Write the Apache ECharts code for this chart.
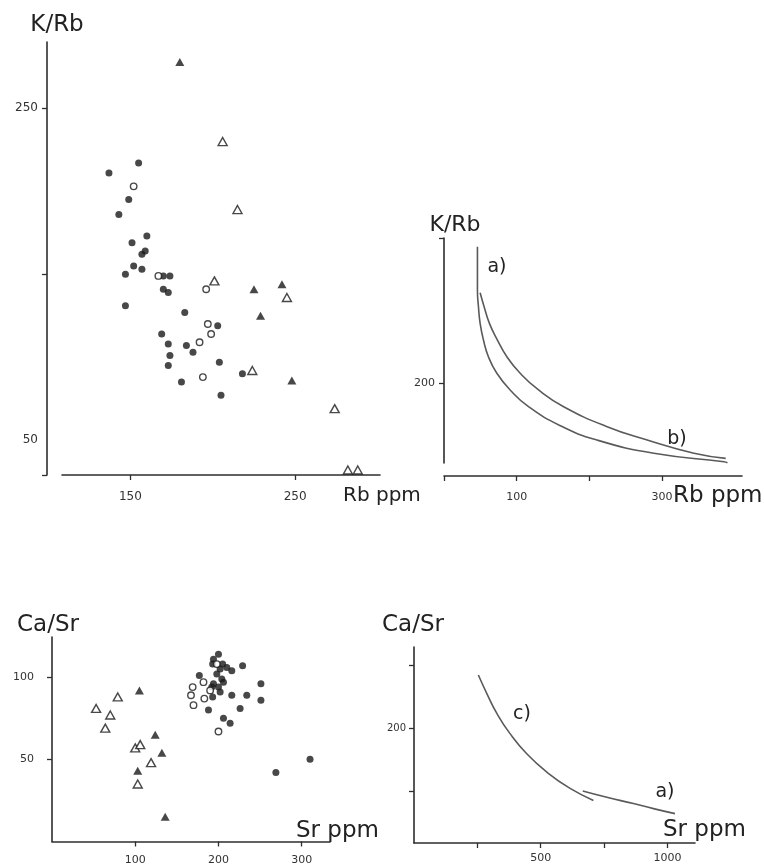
<!DOCTYPE html>
<html>
<head>
<meta charset="utf-8">
<script src="https://cdn.jsdelivr.net/npm/echarts@6/dist/echarts.min.js"></script>
<style>
  html, body { margin: 0; padding: 0; background: #ffffff; }
  #chart { width: 764px; height: 867px; }
</style>
</head>
<body>
<div id="chart"></div>
<script>
// ---- K/Rb against Rb (ppm): four rock groups ----
const rbFilledCircles = [
  [155, 217], [137, 211], [149, 195], [143, 186], [160, 173], [151, 169], [159, 164],
  [157, 162], [152, 155], [147, 150], [157, 153], [170, 149], [174, 149], [170, 141],
  [173, 139], [147, 131], [183, 127], [203, 119], [169, 114], [173, 108], [184, 107],
  [188, 103], [174, 101], [173, 95], [204, 97], [218, 90], [181, 85], [205, 77]
];
const rbOpenCircles = [[152, 203], [167, 149], [196, 141], [197, 120], [199, 114], [192, 109], [194, 88]];
const rbFilledTriangles = [[180, 278], [225, 141], [242, 144], [229, 125], [248, 86]];
const rbOpenTriangles = [[206, 230], [215, 189], [201, 146], [245, 136], [224, 92], [274, 69], [282, 32], [288, 32]];

// Model curves for K/Rb against Rb (curve a starts with a vertical stem)
const rbCurveA = [[46, 294], [46, 264], [47.4, 252.7], [49.7, 241.2], [54.3, 229.7], [61.1, 218.2],
  [72.7, 206.8], [91, 195.3], [116.3, 183.8], [160, 170.7], [210.6, 160.8], [288.7, 151.7], [385.3, 145.9], [390, 145.2]];
const rbCurveB = [[49.7, 262.3], [55.2, 252.7], [62.5, 241.2], [73.5, 229.7], [86.5, 218.2], [104.8, 206.8],
  [130.1, 195.3], [164.6, 183.8], [224.4, 170], [279.6, 160.8], [343.9, 151.7], [387.6, 148.2]];

// ---- Ca/Sr against Sr (ppm) ----
const srFilledCircles = [
  [200, 114], [194, 111], [193, 108], [205, 108], [202, 105], [210, 106], [216, 104],
  [229, 107], [198, 102], [204, 99], [206, 97], [194, 96], [192, 94], [200, 94],
  [202, 91], [193, 88], [216, 89], [234, 89], [251, 96], [251, 86], [226, 81],
  [188, 80], [206, 75], [214, 72], [177, 101], [269, 42], [310, 50]
];
const srOpenCircles = [[169, 94], [167, 89], [170, 83], [182, 97], [183, 87], [190, 92], [198, 108], [200, 67]];
const srFilledTriangles = [[105, 92], [124, 65], [132, 54], [103, 43], [136, 15]];
const srOpenTriangles = [[53, 81], [79, 88], [70, 77], [64, 69], [100, 57], [106, 59], [119, 48], [103, 35]];

// Model curves for Ca/Sr against Sr
const srCurveC = [[254, 285], [287, 256], [327, 224], [379, 192], [445, 160], [524, 131], [616, 105], [708, 86]];
const srCurveA = [[666, 101], [761, 91], [866, 81], [945, 73], [1030, 65]];

// Tick positions and labelled ticks for each axis
const rbScatterXTicks = [150, 250];
const rbScatterYTicks = [29, 150, 250];
const rbScatterYLabels = [50, 250];
const rbModelXTicks = [0, 100, 200, 300];
const rbModelXLabels = [100, 300];
const rbModelYTicks = [200, 300];
const rbModelYLabels = [200];
const srScatterXTicks = [100, 200, 300];
const srScatterYTicks = [50, 100];
const srModelXTicks = [250, 500, 750, 1000];
const srModelXLabels = [500, 1000];
const srModelYTicks = [100, 200, 300];
const srModelYLabels = [200];

const INK = '#1a1a1a';
const AXIS = '#2e2e2e';
const CURVE = '#5a5a5a';
const FONT = 'DejaVu Sans';

function tickLabel(values, margin, size) {
  return {
    show: true, customValues: values, margin: margin, fontSize: size,
    color: '#333', fontFamily: FONT, formatter: function (v) { return String(v); }
  };
}
function axisOf(grid, min, max, ticks, label, extra) {
  return Object.assign({
    type: 'value', gridIndex: grid, min: min, max: max,
    axisLine: { show: true, onZero: false, lineStyle: { color: AXIS, width: 1.6 } },
    axisTick: { show: true, customValues: ticks, length: 5, lineStyle: { color: AXIS, width: 1.3 } },
    axisLabel: label,
    splitLine: { show: false }
  }, extra || {});
}

function dots(data, axisIdx, kind) {
  const filled = kind === 'filledCircle' || kind === 'filledTriangle';
  const tri = kind === 'filledTriangle' || kind === 'openTriangle';
  return {
    type: 'scatter', xAxisIndex: axisIdx, yAxisIndex: axisIdx, data: data,
    symbol: tri ? 'triangle' : 'circle',
    symbolSize: tri ? [9, 8] : (filled ? 7 : 6.5),
    itemStyle: filled
      ? { color: INK }
      : { color: '#ffffff', borderColor: INK, borderWidth: 1.4 },
    silent: true, z: 3
  };
}
function curve(data, axisIdx) {
  return {
    type: 'line', xAxisIndex: axisIdx, yAxisIndex: axisIdx, data: data,
    smooth: 0.5, showSymbol: false, symbol: 'none', clip: false,
    lineStyle: { color: CURVE, width: 1.6 }, silent: true, z: 2
  };
}
function caption(text, x, y, size, align) {
  return {
    type: 'text', x: x, y: y, silent: true,
    style: { text: text, fill: '#222', fontSize: size, fontFamily: FONT, align: align || 'left', verticalAlign: 'middle' }
  };
}

const chart = echarts.init(document.getElementById('chart'), null, { renderer: 'canvas' });
chart.setOption({
  backgroundColor: '#ffffff',
  animation: false,
  grid: [
    { left: 62, top: 42, width: 318, height: 433 },
    { left: 444, top: 238, width: 298, height: 225 },
    { left: 52, top: 637, width: 278, height: 204.5 },
    { left: 414, top: 647, width: 281, height: 196 }
  ],
  xAxis: [
    axisOf(0, 108.5, 301.5, rbScatterXTicks, tickLabel(rbScatterXTicks, 16, 12)),
    axisOf(1, 0, 410, rbModelXTicks, tickLabel(rbModelXLabels, 16, 11), { offset: 13 }),
    axisOf(2, 0, 334, srScatterXTicks, tickLabel(srScatterXTicks, 13, 11)),
    axisOf(3, 0, 1109, srModelXTicks, tickLabel(srModelXLabels, 10, 11))
  ],
  yAxis: [
    axisOf(0, 29, 290, rbScatterYTicks, tickLabel(rbScatterYLabels, 9, 12), { offset: 15 }),
    axisOf(1, 145, 300, rbModelYTicks, tickLabel(rbModelYLabels, 9, 11)),
    axisOf(2, 0, 124.5, srScatterYTicks, tickLabel(srScatterYTicks, 18, 11)),
    axisOf(3, 18.4, 329.5, srModelYTicks, tickLabel(srModelYLabels, 8, 10))
  ],
  series: [
    dots(rbFilledCircles, 0, 'filledCircle'),
    dots(rbOpenCircles, 0, 'openCircle'),
    dots(rbFilledTriangles, 0, 'filledTriangle'),
    dots(rbOpenTriangles, 0, 'openTriangle'),
    curve(rbCurveA, 1),
    curve(rbCurveB, 1),
    dots(srFilledCircles, 2, 'filledCircle'),
    dots(srOpenCircles, 2, 'openCircle'),
    dots(srFilledTriangles, 2, 'filledTriangle'),
    dots(srOpenTriangles, 2, 'openTriangle'),
    curve(srCurveC, 3),
    curve(srCurveA, 3)
  ],
  graphic: [
    caption('K/Rb', 57, 25, 23, 'center'),
    caption('Rb ppm', 343, 496, 20),
    caption('K/Rb', 455, 225, 22, 'center'),
    caption('Rb ppm', 673, 496, 23),
    caption('a)', 497, 267, 19, 'center'),
    caption('b)', 677, 439, 19, 'center'),
    caption('Ca/Sr', 48, 625, 23, 'center'),
    caption('Sr ppm', 296, 831, 23),
    caption('Ca/Sr', 413, 625, 23, 'center'),
    caption('Sr ppm', 663, 830, 23),
    caption('c)', 522, 714, 19, 'center'),
    caption('a)', 665, 792, 19, 'center')
  ]
});
</script>
</body>
</html>
